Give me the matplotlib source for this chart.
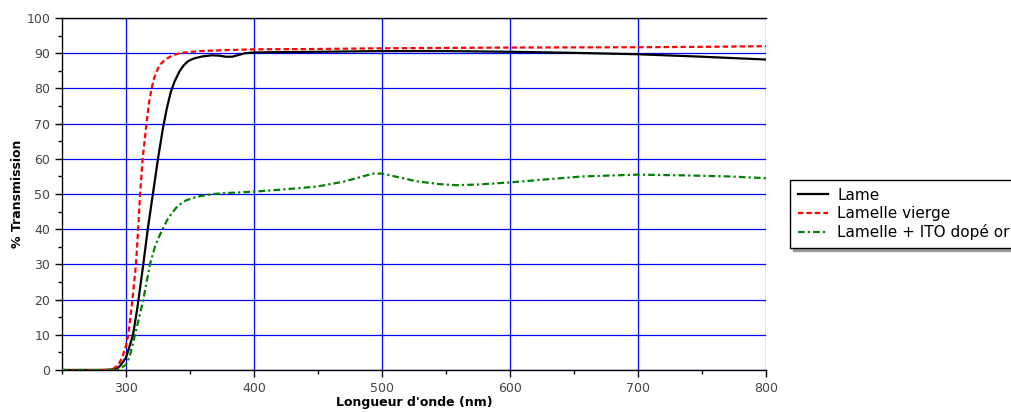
import matplotlib
matplotlib.use("Agg")
import matplotlib.pyplot as plt
from matplotlib.ticker import MultipleLocator

# Data
lame_x = [250, 280, 288, 292, 295, 300, 303, 305.5, 309, 313.5, 317, 321, 325, 329, 332, 335, 338, 342, 345, 348,
          351, 354, 360, 367, 373, 378, 383, 388, 393, 400, 420, 450, 500, 550, 600, 650, 700, 750, 800]
lame_y = [0, 0, 0.1, 0.4, 1.0, 3.5, 7.0, 10, 18, 30, 40, 50, 60, 69, 74.5, 79, 82, 85, 86.5, 87.6,
          88.2, 88.6, 89.1, 89.4, 89.3, 89.0, 89.0, 89.5, 90.0, 90.2, 90.3, 90.4, 90.6, 90.6, 90.4, 90.1, 89.7, 89.0, 88.2]

vierge_x = [250, 285, 290, 294, 297, 300, 301.8, 305, 307.8, 309.5, 311, 313, 316, 318, 320, 322, 325, 328, 332,
            336, 340, 346, 358, 380, 400, 450, 500, 600, 700, 750, 800]
vierge_y = [0, 0, 0.3, 1.5, 3.5, 7, 10, 20, 30, 40, 50, 60, 70, 76, 80, 83, 85.7, 87.3, 88.5,
            89.3, 89.8, 90.2, 90.6, 90.9, 91.1, 91.2, 91.4, 91.6, 91.7, 91.8, 92.0]

ito_x = [250, 290, 295, 300, 303, 307, 310, 313.5, 318.7, 323, 326, 329, 332, 335.7, 339, 342, 347, 355, 368, 380, 397,
         420, 449, 470, 485, 493, 500, 510, 527, 545, 558, 575, 600, 630, 657, 700, 735, 770, 800]
ito_y = [0, 0, 0.3, 1.5, 4, 10, 14.5, 20, 30, 35.5, 38, 40.3, 42.5, 44.5, 46, 47, 48.2, 49.2, 50, 50.3, 50.6,
         51.2, 52.1, 53.5, 55, 55.8, 55.8, 55, 53.6, 52.8, 52.5, 52.7, 53.3, 54.2, 55.0, 55.5, 55.3, 55.0, 54.5]

labels = ["Lame", "Lamelle vierge", "Lamelle + ITO dopé or"]
x_major = [300, 400, 500, 600, 700, 800]
y_major = list(range(0, 101, 10))

fig = plt.figure(figsize=(10.12, 4.12), dpi=100)
ax = fig.add_axes([62/1012, 1-370/412, (766-62)/1012, (370-18)/412])

ax.plot(lame_x, lame_y, color="black", lw=1.6, label=labels[0], zorder=3)
ax.plot(vierge_x, vierge_y, color="red", lw=1.6, ls=(0, (2.4, 1.4)), label=labels[1], zorder=3)
ax.plot(ito_x, ito_y, color="green", lw=1.6, ls=(0, (3.0, 1.4, 1.0, 1.4)), label=labels[2], zorder=3)

ax.set_xlim(250, 800)
ax.set_ylim(0, 100)
ax.set_xticks(x_major)
ax.set_yticks(y_major)
ax.xaxis.set_minor_locator(MultipleLocator(50))
ax.yaxis.set_minor_locator(MultipleLocator(5))
ax.grid(True, which="major", color="blue", lw=0.9)
ax.set_axisbelow(True)
ax.spines["right"].set_visible(False)
for s in ["left", "bottom", "top"]:
    ax.spines[s].set_linewidth(1.0)
ax.tick_params(which="major", direction="out", length=5, width=1, labelsize=9, labelcolor="#444444")
ax.tick_params(which="minor", direction="out", length=3, width=1)
ax.tick_params(top=False, right=False)

ax.set_xlabel("Longueur d'onde (nm)", fontsize=9, fontweight="bold", labelpad=1)
ax.set_ylabel("% Transmission", fontsize=9, fontweight="bold", labelpad=1.5)

leg = fig.legend(loc="upper left", bbox_to_anchor=(790/1012, 1-180/412), bbox_transform=fig.transFigure,
                 fontsize=11, frameon=True, fancybox=False, edgecolor="black", framealpha=1,
                 handlelength=2.0, handletextpad=0.6, borderpad=0.5, labelspacing=0.22, borderaxespad=0,
                 shadow={"color": "#999999", "alpha": 1})
leg.get_frame().set_linewidth(1.0)

fig.savefig("out.png", dpi=100)
